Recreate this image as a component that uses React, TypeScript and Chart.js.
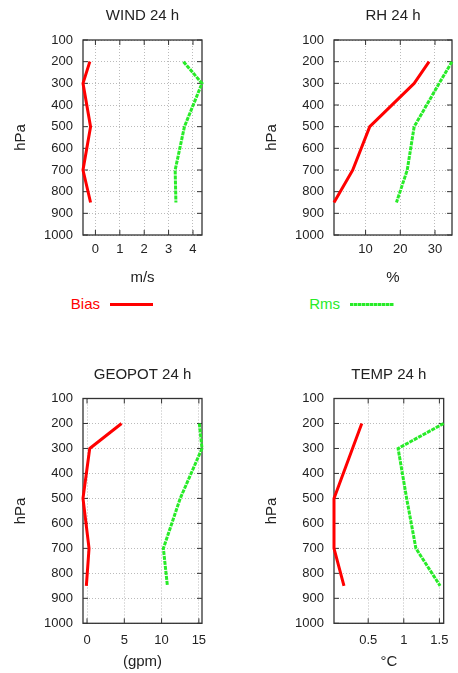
import { useEffect, useRef } from "react";
import { Chart, registerables } from "chart.js";

Chart.register(...registerables);

// ---------- data ----------
const levels = [200, 300, 500, 700, 850];
const pressureTicks = [100, 200, 300, 400, 500, 600, 700, 800, 900, 1000];

const windBias = [-0.23, -0.51, -0.2, -0.51, -0.2];
const windRms = [3.61, 4.37, 3.65, 3.27, 3.3];
const windTicks = [0, 1, 2, 3, 4];

const rhBias = [28.3, 24.0, 11.2, 6.3, 0.9];
const rhRms = [34.9, 31.2, 24.0, 22.0, 18.9];
const rhTicks = [10, 20, 30];

const geoBias = [4.63, 0.36, -0.54, 0.27, -0.09];
const geoRms = [15.06, 15.42, 12.5, 10.24, 10.78];
const geoTicks = [0, 5, 10, 15];

const tempBias = [0.41, 0.28, 0.02, 0.02, 0.16];
const tempRms = [1.56, 0.92, 1.04, 1.17, 1.51];
const tempTicks = [0.5, 1, 1.5];

const seriesNames = ["Bias", "Rms"];

// ---------- styles ----------
const FONT = "'Liberation Sans', Arial, Helvetica, sans-serif";
const TEXT = "#222";
const RED = "rgb(255,0,0)";
const GREEN = "rgb(40,235,40)";

type Panel = {
  title: string;
  unit: string;
  bias: number[];
  rms: number[];
  ticks: number[];
  left: number;
  top: number;
  width: number;
  height: number;
  padLeft: number;
  padRight: number;
  titleTop: number;
  titleBottom: number;
  xHeight: number;
  xTickPad: number;
  xTitlePad: number;
};

const panels: Panel[] = [
  {
    title: "WIND 24 h", unit: "m/s", bias: windBias, rms: windRms, ticks: windTicks,
    left: 0, top: 0, width: 229, height: 290, padLeft: 0, padRight: 27,
    titleTop: 7, titleBottom: 15, xHeight: 55, xTickPad: 7, xTitlePad: 3,
  },
  {
    title: "RH 24 h", unit: "%", bias: rhBias, rms: rhRms, ticks: rhTicks,
    left: 229, top: 0, width: 229, height: 290, padLeft: 22, padRight: 6,
    titleTop: 7, titleBottom: 15, xHeight: 55, xTickPad: 7, xTitlePad: 3,
  },
  {
    title: "GEOPOT 24 h", unit: "(gpm)", bias: geoBias, rms: geoRms, ticks: geoTicks,
    left: 0, top: 360, width: 229, height: 313, padLeft: 0, padRight: 27,
    titleTop: 6, titleBottom: 14.5, xHeight: 49.7, xTickPad: 9, xTitlePad: 2,
  },
  {
    title: "TEMP 24 h", unit: "°C", bias: tempBias, rms: tempRms, ticks: tempTicks,
    left: 229, top: 360, width: 229, height: 313, padLeft: 22, padRight: 6,
    titleTop: 6, titleBottom: 14.5, xHeight: 49.7, xTickPad: 9, xTitlePad: 2,
  },
];

const framePlugin = {
  id: "frameTicks",
  beforeDatasetsDraw(chart: any) {
    const { ctx, chartArea: a, scales } = chart;
    ctx.save();
    ctx.strokeStyle = "#333";
    ctx.lineWidth = 1;
    ctx.beginPath();
    for (const t of scales.x.ticks) {
      const px = scales.x.getPixelForValue(t.value);
      ctx.moveTo(px, a.bottom);
      ctx.lineTo(px, a.bottom - 5);
      ctx.moveTo(px, a.top);
      ctx.lineTo(px, a.top + 5);
    }
    for (const t of scales.y.ticks) {
      const py = scales.y.getPixelForValue(t.value);
      ctx.moveTo(a.left, py);
      ctx.lineTo(a.left + 5, py);
      ctx.moveTo(a.right, py);
      ctx.lineTo(a.right - 5, py);
    }
    ctx.stroke();
    ctx.lineWidth = 1.3;
    ctx.strokeRect(a.left, a.top, a.right - a.left, a.bottom - a.top);
    ctx.restore();
  },
};

function PanelChart({ p }: { p: Panel }) {
  const ref = useRef<HTMLCanvasElement | null>(null);
  useEffect(() => {
    if (!ref.current) return;
    const all = [...p.bias, ...p.rms];
    const xmin = Math.min(...all);
    const xmax = Math.max(...all);
    const chart = new Chart(ref.current, {
      type: "line",
      data: {
        datasets: [
          {
            label: seriesNames[0],
            data: levels.map((lv, i) => ({ x: p.bias[i], y: lv })),
            borderColor: RED,
            backgroundColor: RED,
            borderWidth: 3,
            pointRadius: 0,
            tension: 0,
            borderJoinStyle: "round",
            clip: 3,
          },
          {
            label: seriesNames[1],
            data: levels.map((lv, i) => ({ x: p.rms[i], y: lv })),
            borderColor: GREEN,
            backgroundColor: GREEN,
            borderWidth: 3,
            borderDash: [4, 1],
            pointRadius: 0,
            tension: 0,
            clip: 3,
          },
        ],
      },
      options: {
        animation: false,
        responsive: false,
        maintainAspectRatio: false,
        events: [],
        layout: { padding: { left: p.padLeft, right: p.padRight, top: 0, bottom: 0 } },
        plugins: {
          legend: { display: false },
          tooltip: { enabled: false },
          title: {
            display: true,
            text: p.title,
            fullSize: false,
            color: TEXT,
            font: { family: FONT, size: 15, weight: "normal" },
            padding: { top: p.titleTop, bottom: p.titleBottom },
          },
        },
        scales: {
          x: {
            type: "linear",
            position: "bottom",
            min: xmin,
            max: xmax,
            afterBuildTicks: (s: any) => {
              s.ticks = p.ticks.map((v) => ({ value: v }));
            },
            afterFit: (s: any) => {
              s.height = p.xHeight;
            },
            ticks: {
              color: TEXT,
              font: { family: FONT, size: 13 },
              padding: p.xTickPad,
              maxRotation: 0,
              autoSkip: false,
              callback: (v: any) => String(v),
            },
            grid: { color: "#bbb", lineWidth: 1, drawTicks: false },
            border: { display: false, dash: [1, 2] },
            title: {
              display: true,
              text: p.unit,
              color: TEXT,
              font: { family: FONT, size: 15 },
              padding: { top: 0, bottom: p.xTitlePad },
            },
          },
          y: {
            type: "linear",
            position: "left",
            reverse: true,
            min: 100,
            max: 1000,
            afterBuildTicks: (s: any) => {
              s.ticks = pressureTicks.map((v) => ({ value: v }));
            },
            afterFit: (s: any) => {
              s.width = 83;
            },
            ticks: {
              color: TEXT,
              font: { family: FONT, size: 13 },
              padding: 10,
              autoSkip: false,
              callback: (v: any) => String(v),
            },
            grid: { color: "#bbb", lineWidth: 1, drawTicks: false },
            border: { display: false, dash: [1, 2] },
            title: {
              display: true,
              text: "hPa",
              color: TEXT,
              font: { family: FONT, size: 15 },
              padding: { top: 12, bottom: 0 },
            },
          },
        },
      },
      plugins: [framePlugin],
    } as any);
    return () => chart.destroy();
  }, [p]);
  return (
    <canvas
      ref={ref}
      width={p.width}
      height={p.height}
      style={{ position: "absolute", left: p.left, top: p.top, width: p.width, height: p.height }}
    />
  );
}

export default function App() {
  const legendText = { position: "absolute" as const, top: 295, fontFamily: FONT, fontSize: 15, lineHeight: "18px" };
  return (
    <div style={{ position: "absolute", left: 0, top: 0, width: 458, height: 673, background: "#fff", overflow: "hidden" }}>
      {panels.map((p) => (
        <PanelChart key={p.title} p={p} />
      ))}
      <div style={{ ...legendText, left: 40, width: 60, textAlign: "right", color: RED }}>{seriesNames[0]}</div>
      <div style={{ position: "absolute", left: 110, top: 302.5, width: 43, height: 3, background: RED }} />
      <div style={{ ...legendText, left: 280, width: 60, textAlign: "right", color: GREEN }}>{seriesNames[1]}</div>
      <div
        style={{
          position: "absolute", left: 350, top: 302.5, width: 44, height: 3,
          background: `repeating-linear-gradient(90deg, ${GREEN} 0px, ${GREEN} 3px, rgba(40,235,40,0.5) 3px, rgba(40,235,40,0.5) 4px)`,
        }}
      />
    </div>
  );
}
